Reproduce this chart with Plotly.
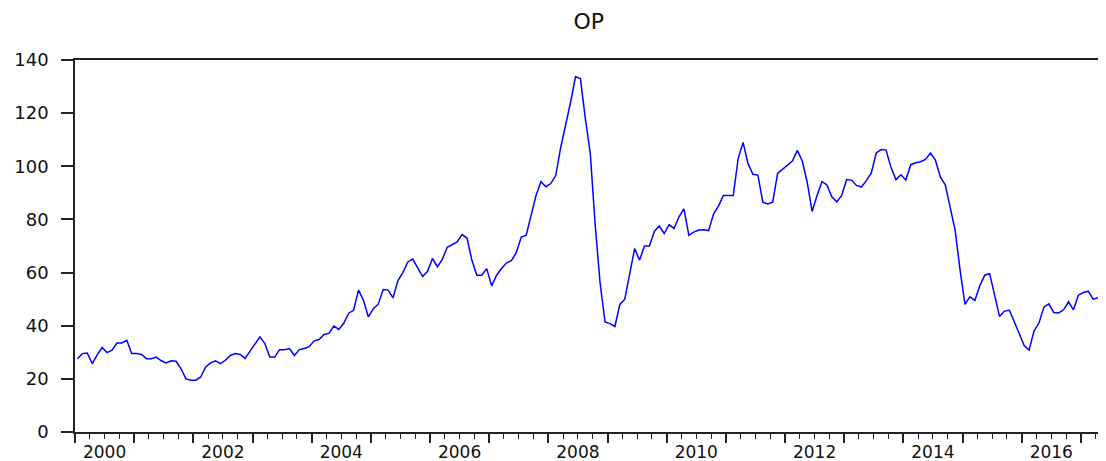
import plotly.graph_objects as go

# Monthly series OP, 2000M01 onward (one value per month)
start_year = 2000
op_values = [
    27.6, 29.5, 29.7, 25.7, 29.0, 31.8, 29.9, 30.8, 33.5, 33.5, 34.5, 29.5,   # 2000
    29.5, 29.2, 27.6, 27.6, 28.2, 26.8, 26.0, 26.8, 26.6, 23.8, 20.0, 19.5,   # 2001
    19.5, 20.7, 24.5, 26.0, 26.8, 25.7, 27.0, 28.8, 29.5, 29.2, 27.7, 30.5,   # 2002
    33.3, 35.8, 33.3, 28.2, 28.2, 31.0, 31.0, 31.4, 28.8, 31.0, 31.4, 32.1,   # 2003
    34.3, 34.8, 36.7, 37.1, 39.9, 38.6, 40.9, 44.7, 45.8, 53.4, 49.6, 43.3,   # 2004
    46.4, 48.1, 53.6, 53.4, 50.5, 57.0, 60.0, 64.0, 65.1, 61.5, 58.5, 60.5,   # 2005
    65.3, 62.2, 65.0, 69.5, 70.5, 71.5, 74.3, 73.0, 64.6, 59.0, 59.0, 61.5,   # 2006
    55.0, 59.0, 61.5, 63.6, 64.5, 67.5, 73.4, 74.0, 81.5, 89.0, 94.2, 92.3,   # 2007
    93.5, 96.5, 107.0, 115.0, 124.0, 133.7, 133.0, 118.0, 105.0, 78.0, 56.0, 41.4,  # 2008
    40.8, 39.7, 48.0, 50.0, 59.0, 69.0, 64.7, 70.0, 70.0, 75.5, 77.5, 74.7,   # 2009
    78.0, 76.6, 81.0, 84.0, 74.0, 75.2, 76.0, 76.1, 75.8, 82.0, 85.0, 89.0,   # 2010
    89.0, 89.0, 103.0, 109.0, 101.0, 97.0, 96.7, 86.5, 85.8, 86.5, 97.3, 98.8,  # 2011
    100.2, 102.0, 106.0, 102.0, 94.0, 83.0, 89.0, 94.2, 93.0, 88.5, 86.6, 89.0,  # 2012
    95.0, 94.8, 92.8, 92.2, 94.6, 97.5, 105.0, 106.3, 106.1, 99.5, 95.0, 96.8,  # 2013
    94.8, 100.6, 101.3, 101.7, 102.6, 105.0, 102.3, 96.0, 93.0, 85.0, 76.0, 61.0,  # 2014
    48.0, 50.9, 49.5, 55.0, 59.0, 59.6, 51.0, 43.5, 45.5, 45.8, 41.5, 37.0,   # 2015
    32.5, 30.8, 38.0, 41.0, 47.0, 48.2, 45.0, 44.8, 46.0, 49.0, 46.0, 51.5,   # 2016
    52.5, 53.0, 50.0, 50.5, 48.0, 46.0,                                       # 2017
]
label_years = [2000, 2002, 2004, 2006, 2008, 2010, 2012, 2014, 2016]
y_ticks = [0, 20, 40, 60, 80, 100, 120, 140]

# x in months since 2000M01, observation at mid-month
x_pos = [i + 0.5 for i in range(len(op_values))]
x_range = [0, 209.1]

year_starts = [12 * k for k in range(0, 18)]
quarter_ticks = [3 * k for k in range(0, 70) if (3 * k) % 12 != 0]
label_pos = [(y - start_year) * 12 + 6 for y in label_years]

font_family = "DejaVu Sans"

fig = go.Figure()
fig.add_trace(go.Scatter(
    x=x_pos, y=op_values, mode="lines",
    line=dict(color="#0000ff", width=1.5),
    showlegend=False, hoverinfo="skip",
))
# invisible trace to activate second x axis for labels
fig.add_trace(go.Scatter(x=[x_range[0]], y=[None], xaxis="x2", showlegend=False, hoverinfo="skip"))

# page body adds an 8px offset, so the figure is 8px smaller and margins compensate
fig.update_layout(
    width=1098, height=453,
    autosize=False,
    margin=dict(l=67, r=0, t=52, b=29, autoexpand=False),
    paper_bgcolor="white", plot_bgcolor="white",
    title=dict(text="OP", x=0.529, xanchor="center", y=0.97, yanchor="middle",
               yref="container", font=dict(family=font_family, size=22, color="#111")),
    xaxis=dict(
        range=x_range, tickmode="array", tickvals=year_starts,
        showticklabels=False, ticks="outside", ticklen=9, tickwidth=1.5, tickcolor="#222",
        minor=dict(tickmode="array", tickvals=quarter_ticks, ticks="outside", ticklen=5,
                   tickwidth=1.3, tickcolor="#222"),
        showline=True, linecolor="#222", linewidth=1.5, mirror=True,
        showgrid=False, zeroline=False,
    ),
    xaxis2=dict(
        range=x_range, overlaying="x", anchor="y", side="bottom",
        tickmode="array", tickvals=label_pos, ticktext=[str(y) for y in label_years],
        ticks="", showline=False, showgrid=False, zeroline=False,
        tickfont=dict(family=font_family, size=17, color="#111"),
        ticklabelstandoff=8,
    ),
    yaxis=dict(
        range=[0, 140], tickmode="array", tickvals=y_ticks,
        ticks="outside", ticklen=12, tickwidth=1.5, tickcolor="#222",
        showline=True, linecolor="#222", linewidth=1.5,
        showgrid=False, zeroline=False,
        tickfont=dict(family=font_family, size=18, color="#111"),
        ticklabelstandoff=9,
    ),
)

fig.write_html("out.html")
